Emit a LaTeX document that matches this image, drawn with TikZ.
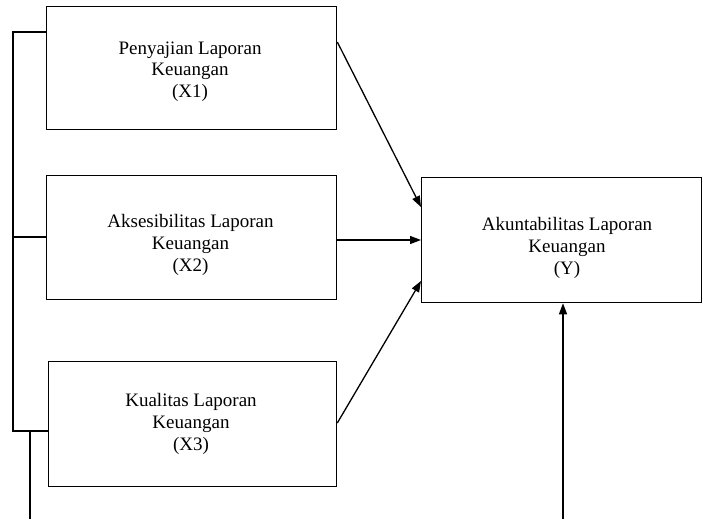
\documentclass[tikz,border=0pt]{standalone}
\usepackage{fontspec}
\setmainfont{Liberation Serif}
\usetikzlibrary{arrows.meta}
\begin{document}
\begin{tikzpicture}[x=1pt,y=-1pt,
  line width=1.3pt,
  boxnode/.style={draw, rectangle, anchor=north west, inner sep=0pt},
  lbl/.style={align=center, inner sep=0pt, font=\fontsize{19}{21.7}\selectfont},
  arr/.style={-{Triangle[length=11pt,width=8pt]}}]
\useasboundingbox (0,0) rectangle (703,519);
\node[boxnode, minimum width=290pt, minimum height=123pt] (b1) at (46,6) {};
\node[boxnode, minimum width=290pt, minimum height=124pt] (b2) at (46,175) {};
\node[boxnode, minimum width=288.5pt, minimum height=125pt] (b3) at (47.5,361) {};
\node[boxnode, minimum width=280pt, minimum height=125pt] (by) at (421,177) {};
\node[lbl] (t1) at (190,71.5) {Penyajian Laporan\\Keuangan\\(X1)};
\node[lbl] (t2) at (190.5,245) {Aksesibilitas Laporan\\Keuangan\\(X2)};
\node[lbl] (t3) at (191,424) {Kualitas Laporan\\Keuangan\\(X3)};
\node[lbl] (ty) at (567,248) {Akuntabilitas Laporan\\Keuangan\\(Y)};
% bracket
\coordinate (b1in) at (46,32);
\coordinate (b2in) at (46,237);
\coordinate (b3in) at (47.5,431);
\coordinate (brT) at (13,32);
\coordinate (brM) at (13,237);
\coordinate (brB) at (13,431);
\coordinate (dT) at (30,431);
\coordinate (dB) at (30,519);
\draw (b1in) -- (brT) -- (brB) -- (b3in);
\draw (b2in) -- (brM);
\draw (dT) -- (dB);
% arrows
\draw[arr] ([yshift=-36pt]b1.north east) -- ([yshift=-30pt]by.north west);
\draw[arr] ([yshift=-65pt]b2.north east) -- ([yshift=-63pt]by.north west);
\draw[arr] ([yshift=-62pt]b3.north east) -- ([yshift=-104pt]by.north west);
\coordinate (yB) at (563,519);
\draw[arr] (yB) -- (yB |- by.south);
\end{tikzpicture}
\end{document}
